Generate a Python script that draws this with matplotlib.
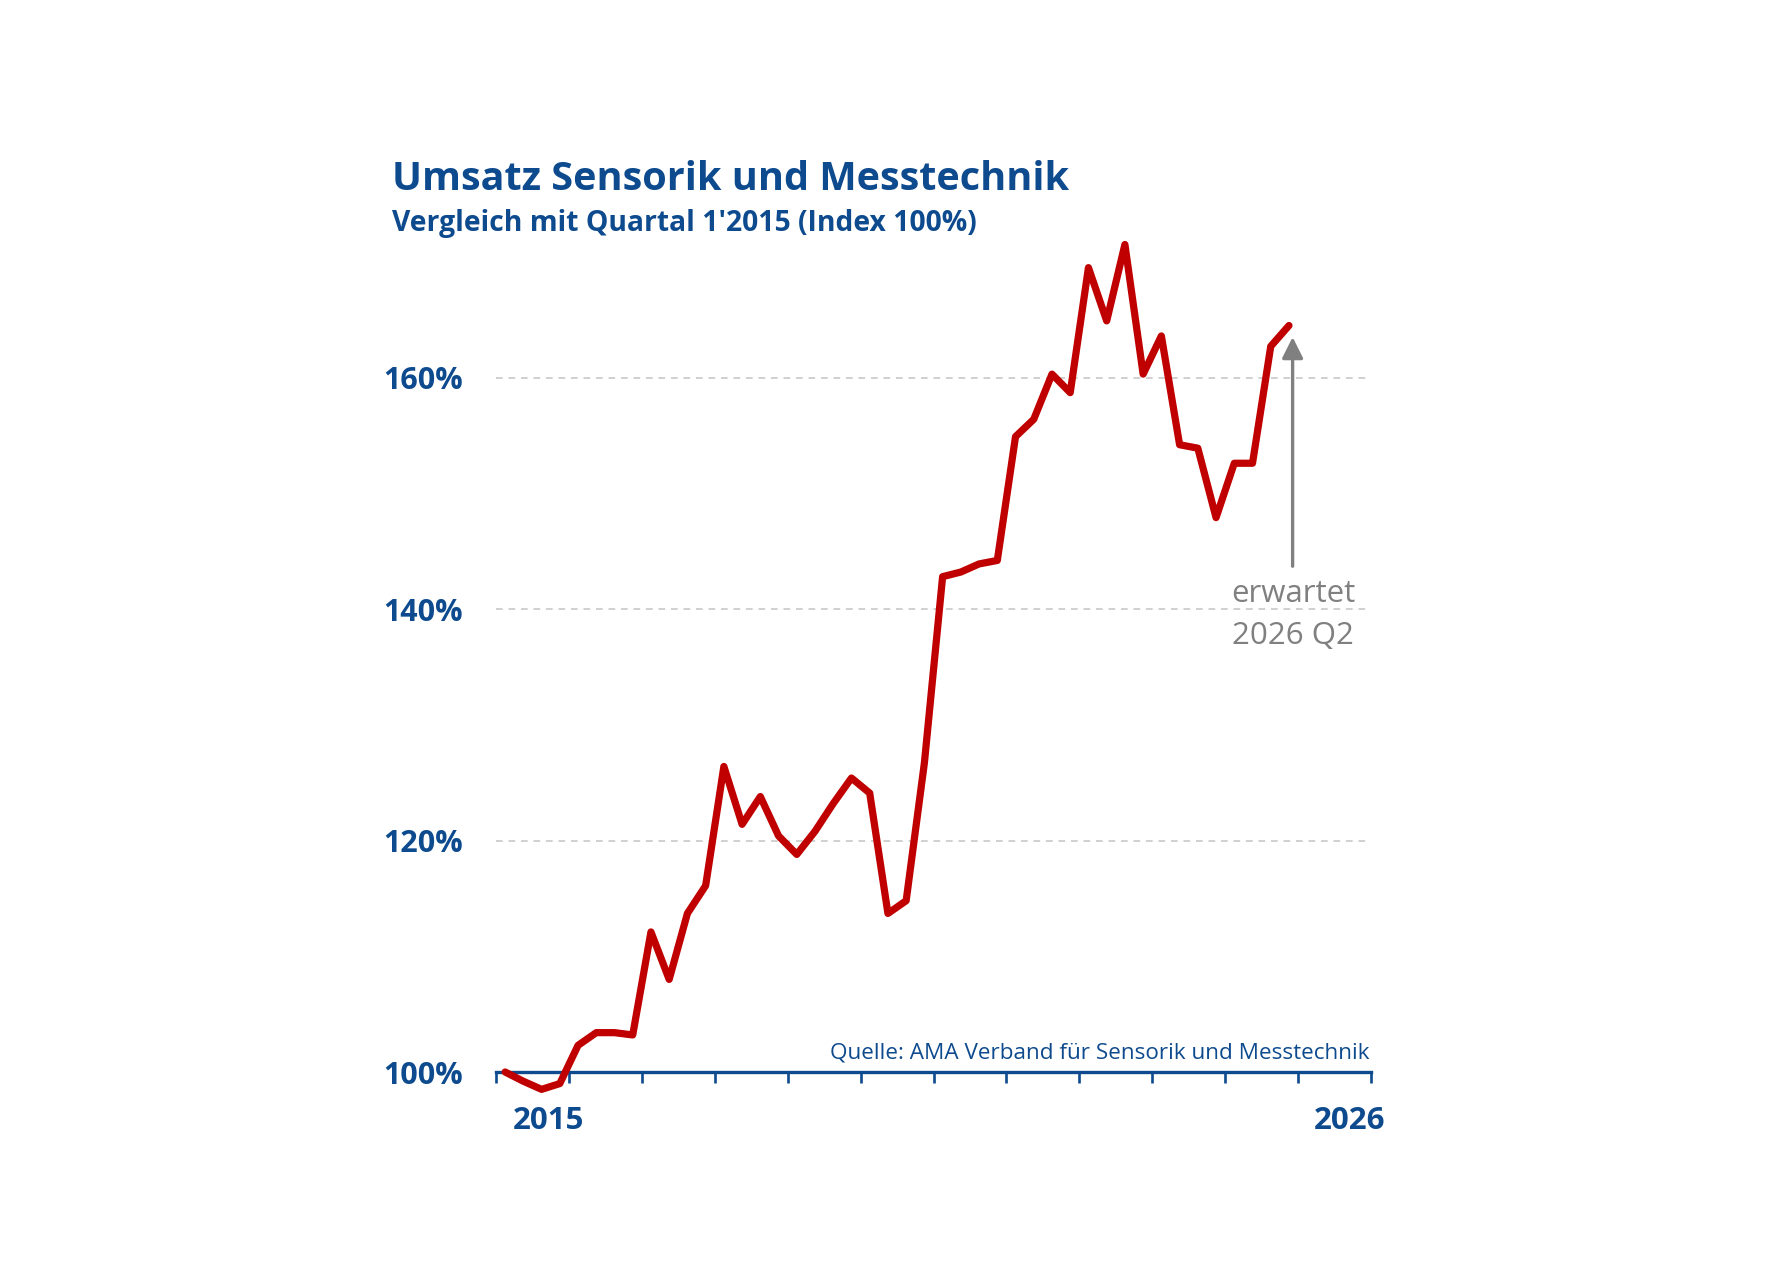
import matplotlib
matplotlib.use("Agg")
import matplotlib.pyplot as plt

plt.rcParams["font.family"] = ["Open Sans", "DejaVu Sans"]

BLUE = "#0d4a8e"
RED = "#c00000"
GREY = "#808080"

# Quartalswerte, Index Q1 2015 = 100 %
quarters = list(range(44))
umsatz = [100.0, 99.2, 98.5, 99.0, 102.3, 103.4, 103.4, 103.2,
          112.1, 108.0, 113.7, 116.1, 126.4, 121.4, 123.8, 120.4,
          118.8, 120.8, 123.2, 125.4, 124.1, 113.7, 114.8, 126.7,
          142.8, 143.2, 143.9, 144.2, 154.9, 156.4, 160.3, 158.7,
          169.5, 164.9, 171.5, 160.3, 163.6, 154.2, 153.9, 147.9,
          152.6, 152.6, 162.7, 164.5]
year_ticks = [-0.5 + 4 * k for k in range(13)]
y_ticks = [100, 120, 140, 160]
y_labels = ["100%", "120%", "140%", "160%"]

W, H = 1779, 1285
fig = plt.figure(figsize=(W / 100, H / 100), dpi=100)
ax = fig.add_axes([496 / W, 1 - 1072 / H, (1371 - 496) / W, (1072 - 204) / H])
ax.set_xlim(-0.5, 47.5)
ax.set_ylim(100, 175)


def fx(px):
    return px / W


def fy(py):
    return 1 - py / H


for v in y_ticks[1:]:
    ax.axhline(v, color="#c8c8c8", lw=1.2, ls=(0, (4, 3.5)), zorder=1)

ax.plot(quarters, umsatz, color=RED, lw=5.2, solid_joinstyle="round",
        solid_capstyle="round", clip_on=False, zorder=3)

for s in ["top", "right", "left"]:
    ax.spines[s].set_visible(False)
ax.spines["bottom"].set_color(BLUE)
ax.spines["bottom"].set_linewidth(2.4)
ax.spines["bottom"].set_zorder(2)

ax.set_xticks(year_ticks)
ax.set_xticklabels([])
ax.tick_params(axis="x", direction="out", length=8, width=1.9, color=BLUE)
ax.set_yticks(y_ticks)
ax.set_yticklabels(y_labels)
ax.tick_params(axis="y", length=0, pad=24, labelsize=22, labelcolor=BLUE)
for t in ax.get_yticklabels():
    t.set_fontweight("bold")

# Jahreslabels
fig.text(fx(549), fy(1121), "2015", ha="center", va="center", fontsize=22.5,
         fontweight="bold", color=BLUE)
fig.text(fx(1385), fy(1121), "2026", ha="right", va="center", fontsize=22.5,
         fontweight="bold", color=BLUE)

# Quelle
fig.text(fx(1370), fy(1053), "Quelle: AMA Verband für Sensorik und Messtechnik",
         ha="right", va="center", fontsize=16.2, color=BLUE)

# Annotation
ax.annotate("", xy=(43.2, 163.5), xytext=(43.2, 143.7),
            arrowprops=dict(arrowstyle="-|>", color=GREY, lw=2.4,
                            mutation_scale=32, shrinkA=0, shrinkB=0))
fig.text(fx(1293), fy(594), "erwartet", ha="center", va="center", fontsize=22.5,
         color=GREY)
fig.text(fx(1293), fy(636), "2026 Q2", ha="center", va="center", fontsize=22.5,
         color=GREY)

# Titel
fig.text(fx(392), fy(179), "Umsatz Sensorik und Messtechnik", ha="left",
         va="center", fontsize=28.5, fontweight="bold", color=BLUE)
fig.text(fx(392), fy(223), "Vergleich mit Quartal 1'2015 (Index 100%)",
         ha="left", va="center", fontsize=20.3, fontweight="bold", color=BLUE)

fig.savefig("out.png", dpi=100)
